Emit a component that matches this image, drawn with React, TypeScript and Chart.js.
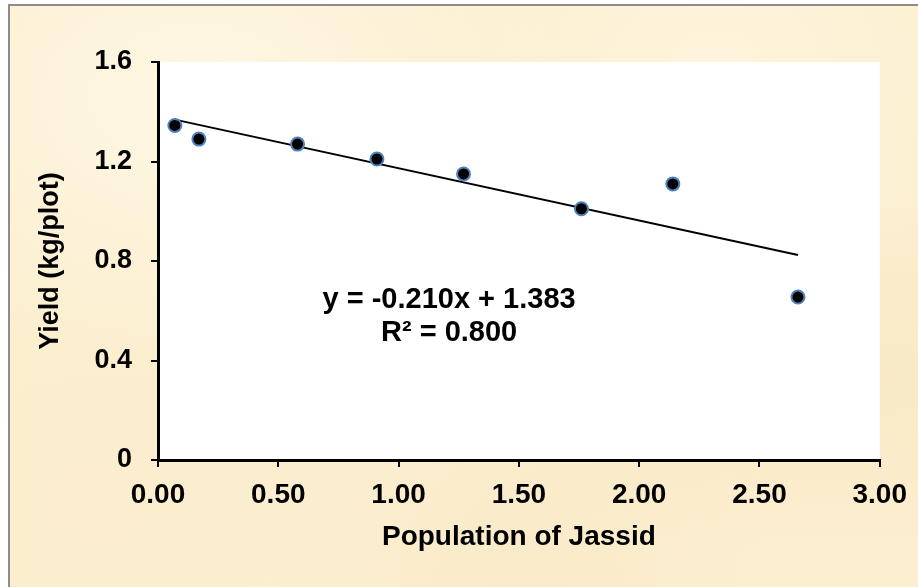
import React, { useEffect, useRef } from "react";
import { Chart, registerables } from "chart.js";

Chart.register(...registerables);

// ---- data ----
const jassidPopulation = [0.07, 0.17, 0.58, 0.91, 1.27, 1.76, 2.14, 2.66];
const yieldKgPlot = [1.345, 1.29, 1.27, 1.21, 1.15, 1.01, 1.11, 0.655];
const trendSlope = -0.21;
const trendIntercept = 1.383;
const trendXRange = [0.07, 2.66];
const xTickValues = [0, 0.5, 1.0, 1.5, 2.0, 2.5, 3.0];
const yTickValues = [0, 0.4, 0.8, 1.2, 1.6];
const equationLines = ["y = -0.210x + 1.383", "R\u00B2 = 0.800"];
const xTitle = "Population of Jassid";
const yTitle = "Yield (kg/plot)";

const FONT = "'Liberation Sans', Arial, sans-serif";

const plotBgPlugin = {
  id: "plotBg",
  beforeDraw(chart: any) {
    const { ctx, chartArea } = chart;
    ctx.save();
    ctx.fillStyle = "#ffffff";
    ctx.fillRect(chartArea.left, chartArea.top, chartArea.right - chartArea.left, chartArea.bottom - chartArea.top);
    ctx.restore();
  },
};

const equationPlugin = {
  id: "equation",
  afterDatasetsDraw(chart: any) {
    const { ctx, scales } = chart;
    const cx = scales.x.getPixelForValue(1.21);
    const cy = scales.y.getPixelForValue(0.645);
    ctx.save();
    ctx.fillStyle = "#000";
    ctx.font = `bold 29px ${FONT}`;
    ctx.textAlign = "center";
    ctx.textBaseline = "middle";
    equationLines.forEach((line, i) => {
      ctx.fillText(line, cx, cy + i * 33);
    });
    ctx.restore();
  },
};

export default function App() {
  const canvasRef = useRef<HTMLCanvasElement | null>(null);

  useEffect(() => {
    if (!canvasRef.current) return;
    const scatterData = jassidPopulation.map((x, i) => ({ x, y: yieldKgPlot[i] }));
    const trendData = trendXRange.map((x) => ({ x, y: trendSlope * x + trendIntercept }));

    const chart = new Chart(canvasRef.current, {
      type: "scatter",
      data: {
        datasets: [
          {
            type: "scatter",
            label: "Yield",
            data: scatterData,
            backgroundColor: "#000000",
            borderColor: "#4f81bd",
            borderWidth: 2,
            pointRadius: 6.5,
            order: 1,
          },
          {
            type: "line",
            label: "Trend",
            data: trendData,
            borderColor: "#000000",
            borderWidth: 2,
            pointRadius: 0,
            fill: false,
            order: 2,
          } as any,
        ],
      },
      options: {
        animation: false,
        responsive: false,
        maintainAspectRatio: false,
        layout: { padding: { top: 62, right: 34, left: 0, bottom: 0 } },
        plugins: {
          legend: { display: false },
          tooltip: { enabled: false },
        },
        scales: {
          x: {
            type: "linear",
            min: 0,
            max: 3,
            afterBuildTicks: (s: any) => {
              s.ticks = xTickValues.map((v) => ({ value: v }));
            },
            afterFit: (s: any) => {
              s.height = 127;
            },
            ticks: {
              color: "#000",
              font: { family: FONT, size: 28, weight: "bold" },
              padding: 11,
              maxRotation: 0,
              callback: (v: any) => Number(v).toFixed(2),
            },
            grid: {
              display: true,
              drawOnChartArea: false,
              drawTicks: true,
              tickLength: 7,
              tickColor: "#000",
              lineWidth: 2,
            },
            border: { display: true, color: "#000", width: 3 },
            title: {
              display: true,
              text: xTitle,
              color: "#000",
              font: { family: FONT, size: 28, weight: "bold" },
              padding: { top: 0, bottom: 33 },
            },
          },
          y: {
            type: "linear",
            min: 0,
            max: 1.6,
            afterBuildTicks: (s: any) => {
              s.ticks = yTickValues.map((v) => ({ value: v }));
            },
            afterFit: (s: any) => {
              s.width = 158;
            },
            ticks: {
              color: "#000",
              font: { family: FONT, size: 27, weight: "bold" },
              padding: 19,
              callback: (v: any) => (Number(v) === 0 ? "0" : Number(v).toFixed(1)),
            },
            grid: {
              display: true,
              drawOnChartArea: false,
              drawTicks: true,
              tickLength: 7,
              tickColor: "#000",
              lineWidth: 2,
            },
            border: { display: true, color: "#000", width: 3 },
            title: {
              display: true,
              text: yTitle,
              color: "#000",
              font: { family: FONT, size: 27, weight: "bold" },
              padding: { top: 34, bottom: 0 },
            },
          },
        },
      },
      plugins: [plotBgPlugin, equationPlugin],
    });
    return () => chart.destroy();
  }, []);

  return (
    <div style={{ position: "fixed", left: 0, top: 0, width: 918, height: 587, overflow: "hidden" }}>
      <div
        style={{
          position: "absolute",
          left: 8,
          top: 4,
          width: 940,
          height: 620,
          borderLeft: "2px solid #8c8c8c",
          borderTop: "2px solid #8c8c8c",
          backgroundColor: "#fcefd0",
          backgroundImage:
            "radial-gradient(ellipse at 20% 15%, rgba(255,250,235,0.7), rgba(255,250,235,0) 35%)," +
            "radial-gradient(ellipse at 75% 10%, rgba(255,248,228,0.6), rgba(255,248,228,0) 30%)," +
            "radial-gradient(ellipse at 90% 60%, rgba(246,228,190,0.6), rgba(246,228,190,0) 35%)," +
            "radial-gradient(ellipse at 10% 80%, rgba(250,236,205,0.6), rgba(250,236,205,0) 30%)," +
            "radial-gradient(ellipse at 55% 95%, rgba(247,232,196,0.6), rgba(247,232,196,0) 35%)",
        }}
      />
      <canvas
        ref={canvasRef}
        width={918}
        height={587}
        style={{ position: "absolute", left: 0, top: 0, width: 918, height: 587 }}
      />
    </div>
  );
}
